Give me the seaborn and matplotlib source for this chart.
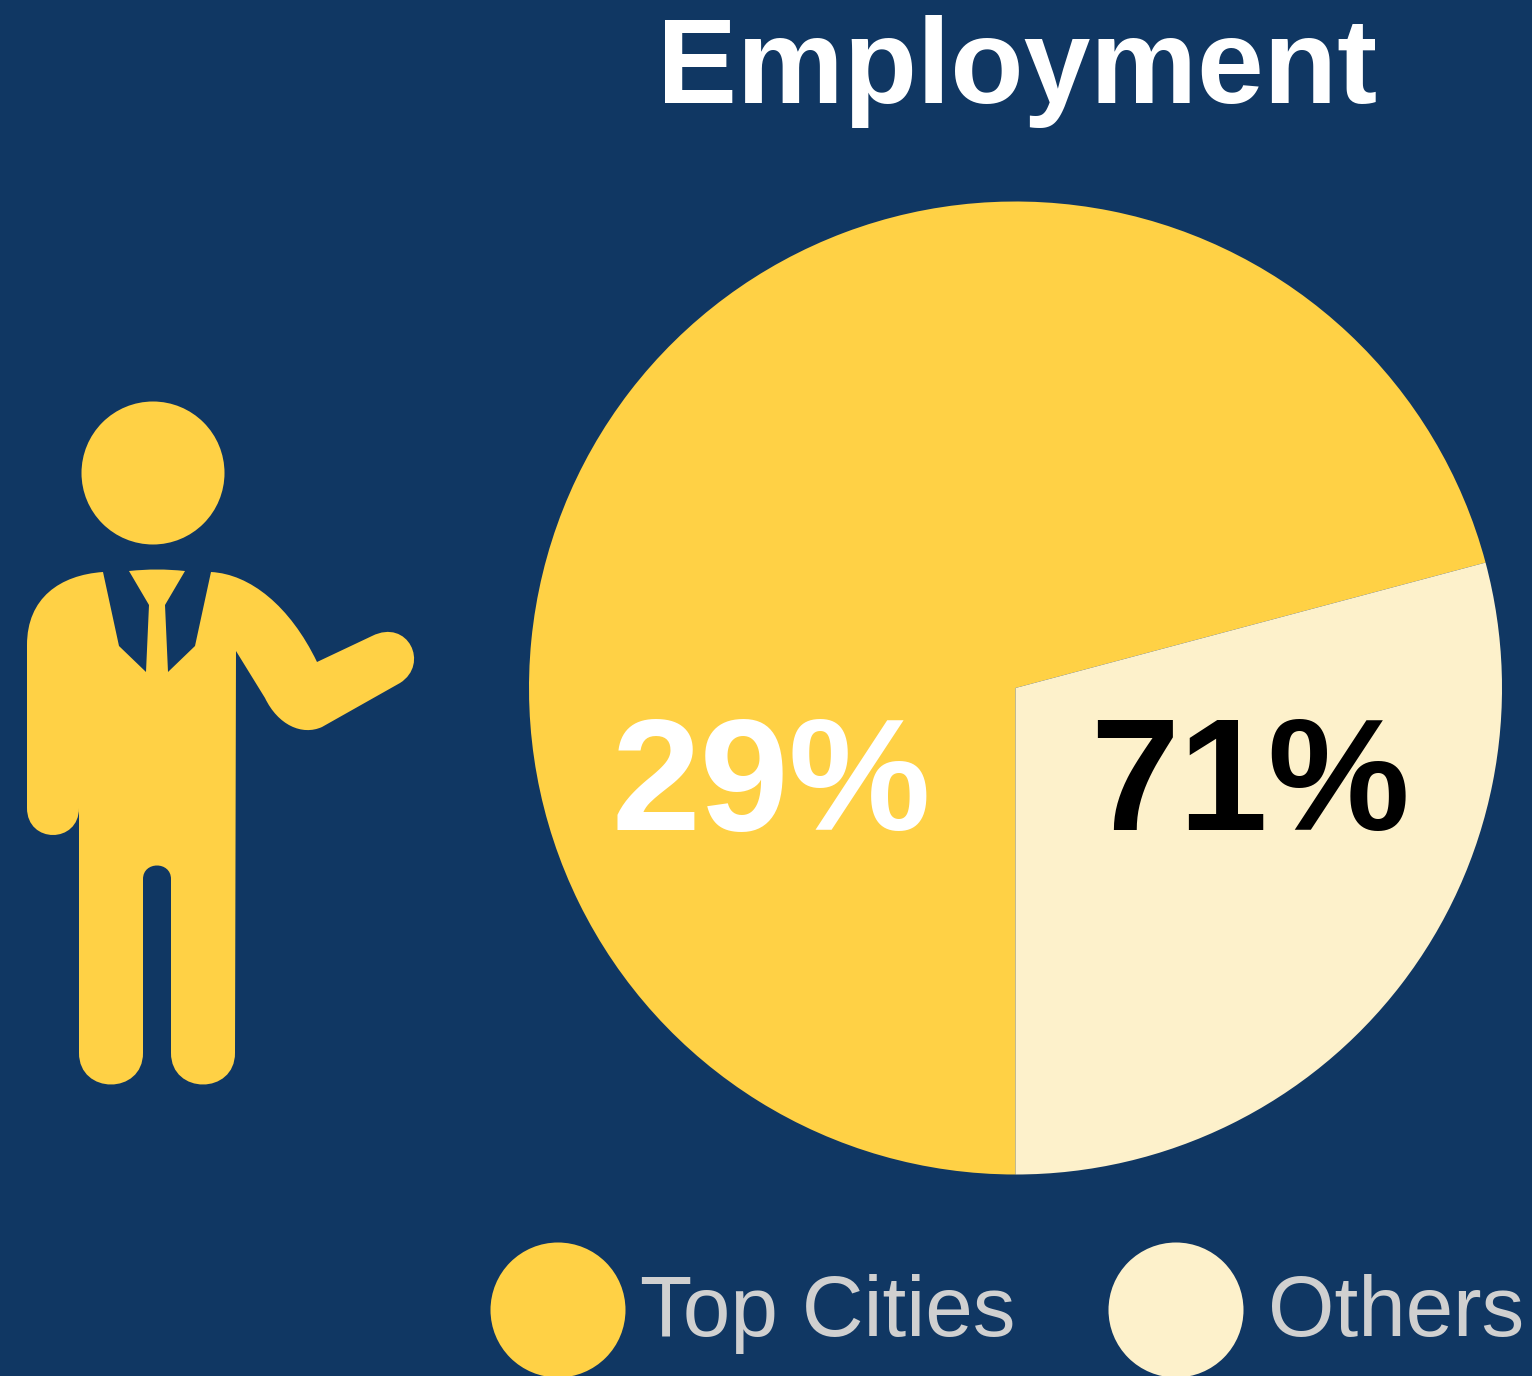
import numpy as np
import matplotlib
matplotlib.use("Agg")
import matplotlib.pyplot as plt
import seaborn as sns
from matplotlib.patches import Circle, PathPatch
from matplotlib.path import Path

categories = ["Top Cities", "Others"]
slice_shares = [70.85, 29.15]
slice_labels = ["29%", "71%"]
title = "Employment"

sns.set_theme(style="white")
plt.rcParams['font.family'] = ['Liberation Sans', 'DejaVu Sans']

NAVY = "#103763"
YELLOW = "#FFD145"
CREAM = "#FDF1CB"
colors = sns.color_palette([YELLOW, CREAM])

W, H = 1532, 1376
fig = plt.figure(figsize=(W / 100, H / 100), dpi=100, facecolor=NAVY)

# pie
ax = fig.add_axes([(1015.5 - 486.5) / W, 1 - (688 + 486.5) / H, 973 / W, 973 / H])
ax.pie(slice_shares, colors=colors, startangle=270 - 360 * slice_shares[0] / 100, radius=1,
       wedgeprops={"linewidth": 0})
ax.set_xlim(-1, 1)
ax.set_ylim(-1, 1)

# overlay axes in pixel coordinates, y going down like the picture
bg = fig.add_axes([0, 0, 1, 1])
bg.set_xlim(0, W)
bg.set_ylim(H, 0)
bg.axis("off")
bg.set_zorder(2)

bg.text(771, 830, slice_labels[0], color="white", fontsize=115, fontweight="bold", ha="center", va="baseline")
bg.text(1250, 830, slice_labels[1], color="black", fontsize=115, fontweight="bold", ha="center", va="baseline")
bg.text(1017, 103, title, color="white", fontsize=86.4, fontweight="bold", ha="center", va="baseline")

# legend
for x, col, name, tx in zip([558, 1176], colors, categories, [640, 1268]):
    bg.add_patch(Circle((x, 1310), 67.5, color=col, lw=0, clip_on=False))
    bg.text(tx, 1336, name, color="#D0D0D0", fontsize=61.6, ha="left", va="baseline")

# person icon
bg.add_patch(Circle((153, 473), 71.5, color=YELLOW, lw=0))
M, L, C = Path.MOVETO, Path.LINETO, Path.CURVE4
body = [
    ((103, 572), M),
    ((60, 575), C), ((27, 598), C), ((27, 645), C),
    ((27, 808), L),
    ((27, 844), C), ((79, 844), C), ((79, 808), C),
    ((79, 1053), L),
    ((79, 1095), C), ((143, 1095), C), ((143, 1053), C),
    ((143, 879), L),
    ((143, 861), C), ((171, 861), C), ((171, 879), C),
    ((171, 1053), L),
    ((171, 1095), C), ((235, 1095), C), ((235, 1053), C),
    ((236, 651), L),
    ((265, 698), L),
    ((278, 725), C), ((302, 736), C), ((322, 727), C),
    ((400, 683), L),
    ((430, 664), C), ((408, 618), C), ((372, 636), C),
    ((317, 662), L),
    ((290, 606), C), ((250, 574), C), ((211, 572), C),
    ((195, 646), L),
    ((168, 672), L),
    ((165, 605), L),
    ((185, 571), L),
    ((165, 569), C), ((149, 569), C), ((129, 571), C),
    ((149, 605), L),
    ((146, 672), L),
    ((119, 646), L),
    ((103, 572), L),
]
verts, codes = zip(*body)
bg.add_patch(PathPatch(Path(verts, codes), facecolor=YELLOW, edgecolor="none", lw=0))

fig.savefig("out.png", dpi=100, facecolor=NAVY)
